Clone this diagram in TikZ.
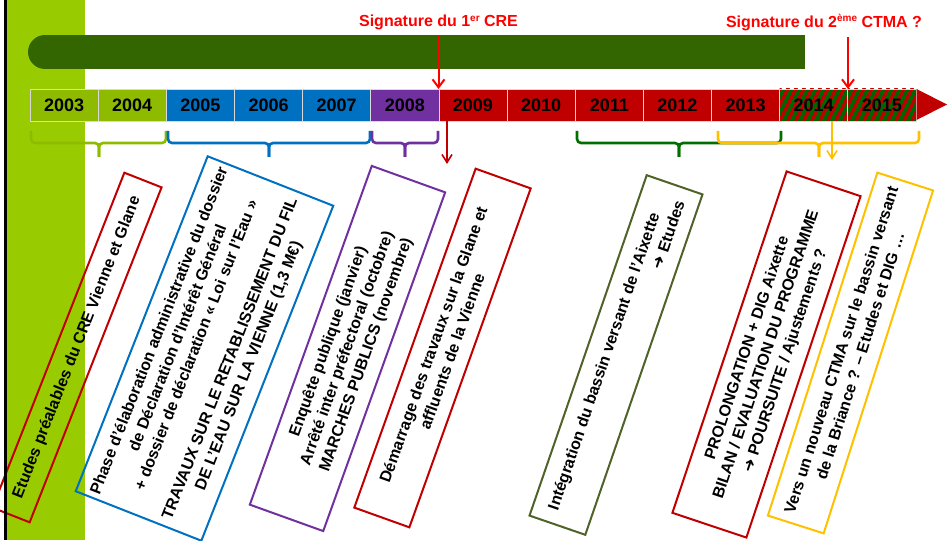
\documentclass[tikz,border=0pt]{standalone}
\usepackage{fontspec}
\setmainfont{Liberation Sans}
\newfontfamily\symfont{DejaVu Sans}
\usetikzlibrary{arrows.meta}
\definecolor{lime}{RGB}{153,204,0}
\definecolor{cellgreen}{RGB}{142,186,0}
\definecolor{bardark}{RGB}{51,102,0}
\definecolor{cblue}{RGB}{0,112,192}
\definecolor{cpurple}{RGB}{112,48,160}
\definecolor{cred}{RGB}{192,0,0}
\definecolor{hatchgreen}{RGB}{0,102,0}
\definecolor{bgreen}{RGB}{0,110,0}
\definecolor{cyellow}{RGB}{255,192,0}
\definecolor{colive}{RGB}{79,98,40}
\definecolor{sigred}{RGB}{255,0,0}
\newcommand{\tlbrace}[4]{%
  \draw[bracestyle,#1] (#2,131) -- (#2,143) -- (#4,143) -- (#4,157);
  \draw[bracestyle,#1] (#3,131) -- (#3,143) -- (#4,143) -- (#4,157);}
\newcommand{\heavyarrow}{{\symfont\mdseries ➜}}
\begin{document}
\begin{tikzpicture}[x=1pt,y=-1pt,
  cell/.style={draw=white!85!black, line width=0.8pt, minimum width=68.15pt,
    minimum height=32pt, inner sep=0pt, font=\bfseries\fontsize{18}{20}\selectfont, text=black},
  boxnote/.style={draw, line width=2pt, inner sep=0pt, minimum width=360pt, align=center,
    font=\bfseries\fontsize{16}{20}\selectfont, text=black},
  sig/.style={text=sigred, font=\bfseries\fontsize{16}{19}\selectfont, anchor=base, inner sep=0pt},
  sigarrow/.style={draw=sigred, line width=2pt, -{Straight Barb[length=8pt,width=12pt,line width=2pt]}},
  downarrow/.style={line width=1.6pt, -{Straight Barb[length=8pt,width=10pt,line width=1.6pt]}},
  bracestyle/.style={line width=2.6pt, rounded corners=4pt},
  hatch/.style={path picture={\foreach \k in {-6,...,10}
      \draw[cred, line width=3.2pt] ([xshift=\k*8pt]path picture bounding box.south west) -- ++(20,-40);}}
]
\useasboundingbox (0,0) rectangle (949,540);
\clip (0,0) rectangle (949,540);
% left band
\fill[lime] (6.5,0) rectangle (85,540);
% dark bar
\fill[bardark] (45,35) rectangle (805,69);
\fill[bardark] (45,52) circle (17);

% timeline cells
\foreach \i/\yr/\col in {0/2003/cellgreen,1/2004/cellgreen,2/2005/cblue,3/2006/cblue,4/2007/cblue,
    5/2008/cpurple,6/2009/cred,7/2010/cred,8/2011/cred,9/2012/cred,10/2013/cred}
  \node[cell, fill=\col] (y\yr) at ({30+68.15*\i+34.075},105) {\yr};
\node[cell, fill=hatchgreen, hatch] (y2014) at ({30+68.15*11+34.075},105) {2014};
\node[cell, fill=hatchgreen, hatch] (y2015) at ({30+68.15*12+34.075},105) {2015};
\fill[cred] (916.5,89) -- (947,104.5) -- (916.5,120) -- cycle;

% braces
\tlbrace{cellgreen}{31}{166}{99}
\tlbrace{cblue}{168}{370}{269}
\tlbrace{cpurple}{372}{438}{405}
\tlbrace{bgreen}{577}{781}{679}
\tlbrace{cyellow}{718}{919}{819}

% signatures
\node[sig] (sig1) at (438.5,27) {Signature du 1\raisebox{5.5pt}{\fontsize{10}{10}\selectfont er} CRE};
\node[sig] (sig2) at (824,27.5) {Signature du 2\raisebox{5.5pt}{\fontsize{10}{10}\selectfont ème} CTMA ?};
\coordinate (s1a) at (438.5,35);
\coordinate (s1b) at (438.5,89);
\coordinate (s2a) at (848,37);
\coordinate (s2b) at (848,89);
\draw[sigarrow] (s1a) -- (s1b);
\draw[sigarrow] (s2a) -- (s2b);

% arrows below timeline
\coordinate (d1a) at (447,121);
\coordinate (d1b) at (447,164);
\draw[downarrow, cred] (d1a) -- (d1b);
\coordinate (d2a) at (832,121);
\coordinate (d2b) at (832,160);
\draw[downarrow, cyellow, line width=2pt] (d2a) -- (d2b);

% rotated boxes
\node[boxnote, draw=cred, minimum height=40pt, rotate=68.5] (etudes) at (77,347.5)
  {Etudes préalables du CRE Vienne et Glane};
\node[boxnote, draw=cblue, minimum height=135pt, rotate=68.5] (phase) at (204.5,348.5)
  {Phase d’élaboration administrative du dossier\\
   de Déclaration d’Intérêt Général\\
   + dossier de déclaration « Loi sur l’Eau »\\[16pt]
   TRAVAUX SUR LE RETABLISSEMENT DU FIL\\
   DE L'EAU SUR LA VIENNE (1,3 M€)};
\node[boxnote, draw=cpurple, minimum height=78pt, rotate=70.2] (enquete) at (347.5,348.5)
  {Enquête publique (janvier)\\
   Arrêté inter préfectoral (octobre)\\
   MARCHES PUBLICS (novembre)};
\node[boxnote, draw=cred, minimum height=58.5pt, rotate=70.3] (demarrage) at (442.5,348)
  {Démarrage des travaux sur la Glane et\\
   affluents de la Vienne};
\node[boxnote, draw=colive, minimum height=59pt, rotate=71, align=right] (integration) at (616,355)
  {Intégration du bassin versant de l’Aixette\hspace*{20pt}\\
   \heavyarrow{} Etudes};
\node[boxnote, draw=cred, minimum height=78pt, rotate=71.5] (prolong) at (766.5,354.5)
  {PROLONGATION + DIG Aixette\\
   BILAN / EVALUATION DU PROGRAMME\\
   \heavyarrow{} POURSUITE / Ajustements ?};
\node[boxnote, draw=cyellow, minimum height=58.5pt, rotate=72.3] (ctma) at (850.5,353)
  {Vers un nouveau CTMA sur le bassin versant\\
   de la Briance ? – Etudes et DIG …};

% black vertical line
\draw[black, line width=2.6pt] (5.3,0) -- (5.3,540);
\end{tikzpicture}
\end{document}
